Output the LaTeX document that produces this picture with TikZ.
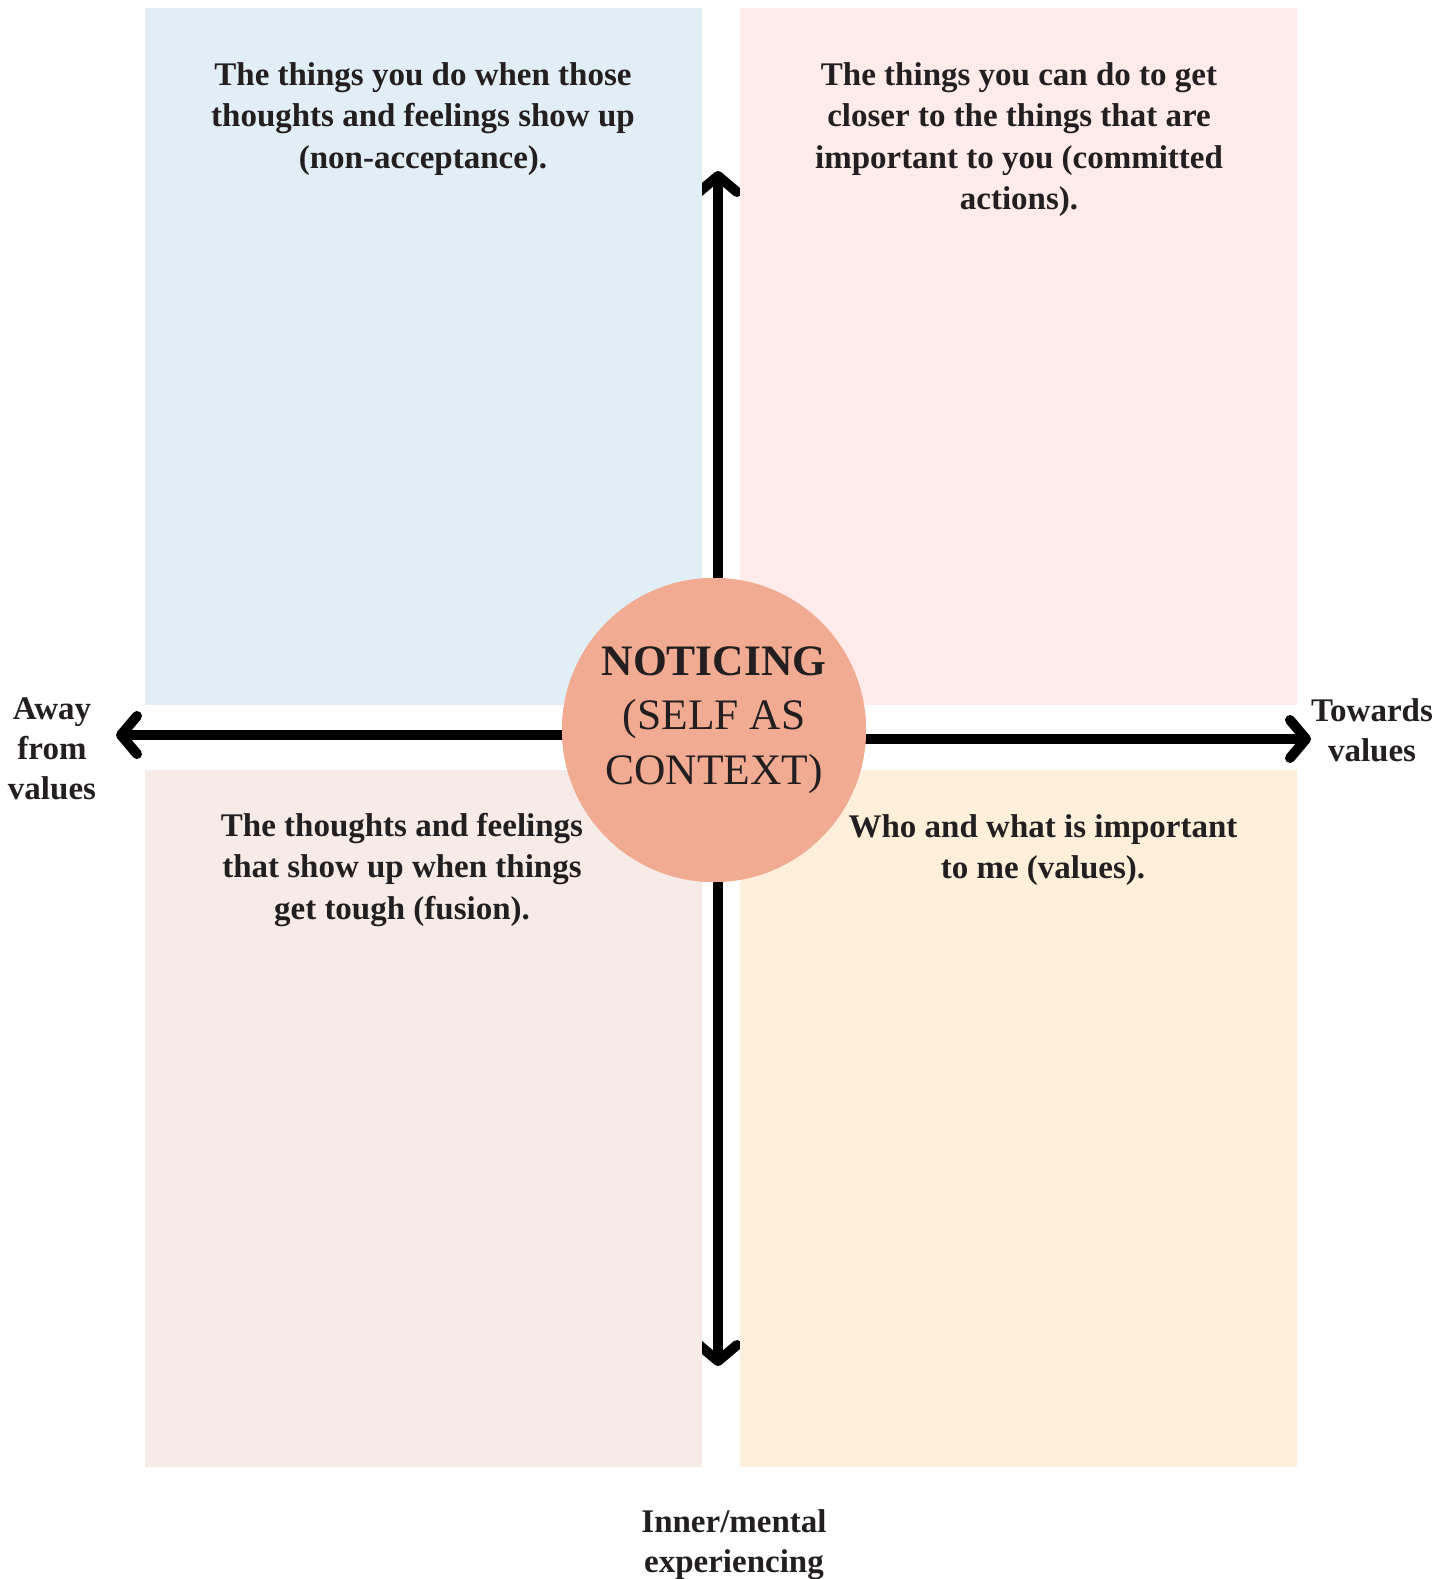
\documentclass[tikz,border=0pt]{standalone}
\usepackage{fontspec}
\setmainfont{Liberation Serif}
\usetikzlibrary{arrows.meta,backgrounds,calc}
\definecolor{ink}{HTML}{231F20}
\definecolor{skyfill}{HTML}{E1EEF6}
\definecolor{rosefill}{HTML}{FFEBE9}
\definecolor{sandfill}{HTML}{F6EBE6}
\definecolor{creamfill}{HTML}{FEEFDB}
\definecolor{salmon}{HTML}{F2AB93}

\begin{document}
\begin{tikzpicture}[
    x=1pt, y=-1pt,
    quad/.style={rectangle, minimum width=557pt, minimum height=697pt, inner sep=0pt},
    prompt/.style={align=center, inner sep=0pt, text=ink,
                   font=\fontsize{33}{41.5}\selectfont\bfseries},
    pole/.style={prompt, font=\fontsize{33}{40}\selectfont\bfseries},
    hub/.style={circle, fill=salmon, minimum size=304pt, inner sep=0pt},
    hubtext/.style={align=center, inner sep=0pt, text=ink,
                    font=\fontsize{43.5}{54.5}\selectfont},
    axis/.style={draw=black, line width=10pt, line cap=round,
                 -{Straight Barb[length=16pt, width=38pt, round]}},
  ]

  % Seitenfläche
  \useasboundingbox (0,0) rectangle (1448,1579);

  % vier Felder
  \node[quad, fill=skyfill]   (tl) at (423.5, 356.5) {};
  \node[quad, fill=rosefill]  (tr) at (1018.5, 356.5) {};
  \node[quad, fill=sandfill]  (bl) at (423.5, 1118) {};
  \node[quad, fill=creamfill] (br) at (1018.5, 1118) {};

  % Kreis in der Mitte
  \node[hub] (hub) at (714, 730) {};
  \node[hubtext] (hubtxt) at ($(hub.center)+(0,-10)$)
    {\textbf{NOTICING}\\(SELF AS\\CONTEXT)};

  % Pfeilspitzen der Achsen
  \coordinate (upTip)     at (718, 171);
  \coordinate (downTip)   at (718, 1366);
  \coordinate (awayTip)   at (116, 735);
  \coordinate (towardTip) at (1311, 739);

  % Achsen hinter dem Kreis
  \begin{scope}[on background layer]
    \draw[axis] (upTip |- hub.center) -- (upTip);
    \draw[axis] (downTip |- hub.center) -- (downTip);
    \draw[axis] (hub.center |- awayTip) -- (awayTip);
    \draw[axis] (hub.center |- towardTip) -- (towardTip);
  \end{scope}
  \node[hub] at (hub.center) {};
  \node[hubtext] at (hubtxt.center)
    {\textbf{NOTICING}\\(SELF AS\\CONTEXT)};

  % Texte in den Feldern
  \node[prompt, anchor=north] (tlText) at (423, 62)
    {The things you do when those\\thoughts and feelings show up\\(non-acceptance).};
  \node[prompt, anchor=north] (trText) at (1019, 62)
    {The things you can do to get\\closer to the things that are\\important to you (committed\\actions).};
  \node[prompt, anchor=north] (blText) at (402, 813)
    {The thoughts and feelings\\that show up when things\\get tough (fusion).};
  \node[prompt, anchor=north] (brText) at (1043, 814)
    {Who and what is important\\to me (values).};

  % Beschriftung der Achsen
  \node[pole, anchor=north] (away)   at (52, 698) {Away\\from\\values};
  \node[pole, anchor=north] (toward) at (1372, 698) {Towards\\values};
  \node[pole, anchor=north] (inner)  at (734, 1509) {Inner/mental\\experiencing};

\end{tikzpicture}
\end{document}
